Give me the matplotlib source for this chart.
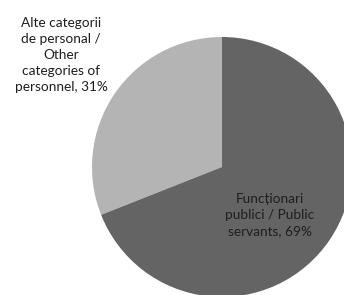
import matplotlib
matplotlib.use("Agg")
import matplotlib.pyplot as plt

labels = ["Alte categorii\nde personal /\nOther\ncategories of\npersonnel, 31%",
          "Funcționari\npublici / Public\nservants, 69%"]
shares = [31, 69]
colors = ["#b4b4b4", "#646464"]

W, H = 344, 295
fig = plt.figure(figsize=(W / 100, H / 100), dpi=100)
ax = fig.add_axes([0, 0, 1, 1])

ax.pie(shares, colors=colors, startangle=90, counterclock=True,
       center=(222, H - 167), radius=130, frame=True,
       wedgeprops=dict(linewidth=0))
ax.set_xlim(0, W)
ax.set_ylim(0, H)
ax.set_aspect("equal")
ax.axis("off")

font = dict(family=["Lato", "DejaVu Sans"], fontsize=9.8, color="#1e1e1e",
            ha="center", va="center", linespacing=1.38)
ax.text(61, H - 55, labels[0], **font)
ax.text(270, H - 215, labels[1], **font)

fig.savefig("out.png", dpi=100)
